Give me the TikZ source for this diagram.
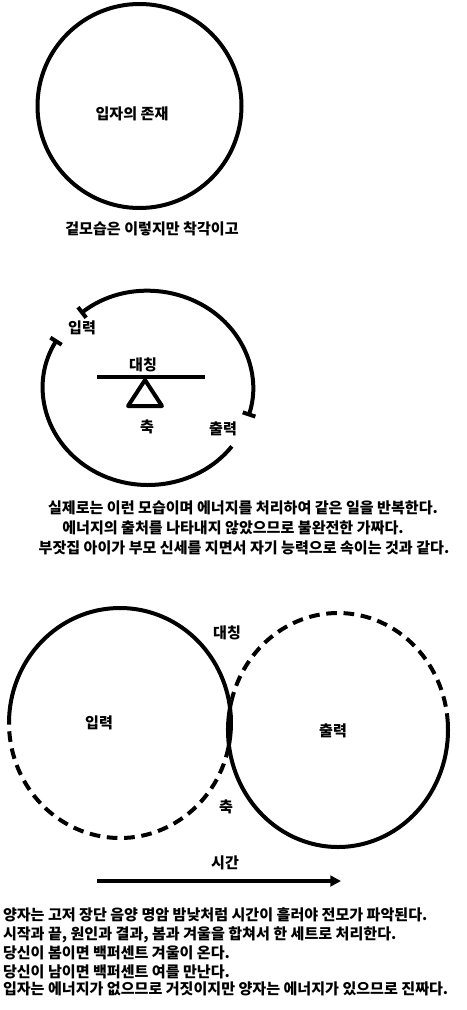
\documentclass[tikz,border=0pt]{standalone}
\usepackage{fontspec}
\setmainfont{Noto Sans CJK KR}
\usetikzlibrary{arrows.meta, positioning}

\begin{document}
\begin{tikzpicture}[x=0.75pt, y=0.75pt, line width=3pt, line join=round,
        every node/.style={inner sep=0pt, font=\fontsize{11.3}{12}\selectfont\bfseries},
        broken/.style={dash pattern=on 8pt off 5pt},
        tick/.style={{Bar[width=10pt]}-{Bar[width=10pt]}}]
    \useasboundingbox (0,0) rectangle (467,-1010);
    % particle
    \draw (139.5,-106) circle [radius=102];
    \node (particle) at (132,-114) {입자의 존재};
    \node (illusion) at (152,-229) {겉모습은 이렇지만 착각이고};
    % cycle
    \coordinate (c) at (148,-388);
    \draw[tick] ([shift={(130:105 and 97)}]c) arc [start angle=130, end angle=-17, x radius=105, y radius=97];
    \draw[-{Bar[width=10pt]}] ([shift={(-37:105 and 97)}]c) arc [start angle=-37, end angle=-210, x radius=105, y radius=97];
    \node (in) at (82,-328) {입력};
    \node (out) at (223,-429) {출력};
    \node (sym) at (143,-365) {대칭};
    \node (axis) at (147,-427) {축};
    \draw (97,-377) -- (205,-377);
    \draw (145,-380) -- (128,-406) -- (162,-406) -- cycle;
    \node (real) at (243,-508) {실제로는 이런 모습이며 에너지를 처리하여 같은 일을 반복한다.};
    \node (fake) at (233,-528) {에너지의 출처를 나타내지 않았으므로 불완전한 가짜다.};
    \node (rich) at (244,-548) {부잣집 아이가 부모 신세를 지면서 자기 능력으로 속이는 것과 같다.};
    % quantum
    \coordinate (l) at (120,-723);
    \coordinate (r) at (338,-730);
    \draw ([shift={(180:111 and 115)}]l) arc [start angle=180, end angle=-12, x radius=111, y radius=115];
    \draw[broken] ([shift={(-12:111 and 115)}]l) arc [start angle=-12, end angle=-180, x radius=111, y radius=115];
    \draw[broken] ([shift={(3:110 and 117)}]r) arc [start angle=3, end angle=165, x radius=110, y radius=117];
    \draw ([shift={(165:110 and 117)}]r) arc [start angle=165, end angle=363, x radius=110, y radius=117];
    \node (in2) at (99,-723) {입력};
    \node (out2) at (333,-731) {출력};
    \node (sym2) at (227,-633) {대칭};
    \node (axis2) at (226,-807) {축};
    % time
    \node (time) at (225,-863) {시간};
    \coordinate (t0) at (97,-881);
    \coordinate (t1) at (341,-881);
    \draw[-{Triangle[length=8pt, width=8pt]}] (t0) -- (t1);
    \node[anchor=west] (note1) at (1,-915) {양자는 고저 장단 음양 명암 밤낮처럼 시간이 흘러야 전모가 파악된다.};
    \node[anchor=west] (note2) at (1,-935) {시작과 끝, 원인과 결과, 봄과 겨울을 합쳐서 한 세트로 처리한다.};
    \node[anchor=west] (note3) at (1,-953) {당신이 봄이면 백퍼센트 겨울이 온다.};
    \node[anchor=west] (note4) at (1,-972) {당신이 남이면 백퍼센트 여를 만난다.};
    \node[anchor=west] (note5) at (1,-989) {입자는 에너지가 없으므로 거짓이지만 양자는 에너지가 있으므로 진짜다.};
\end{tikzpicture}
\end{document}
